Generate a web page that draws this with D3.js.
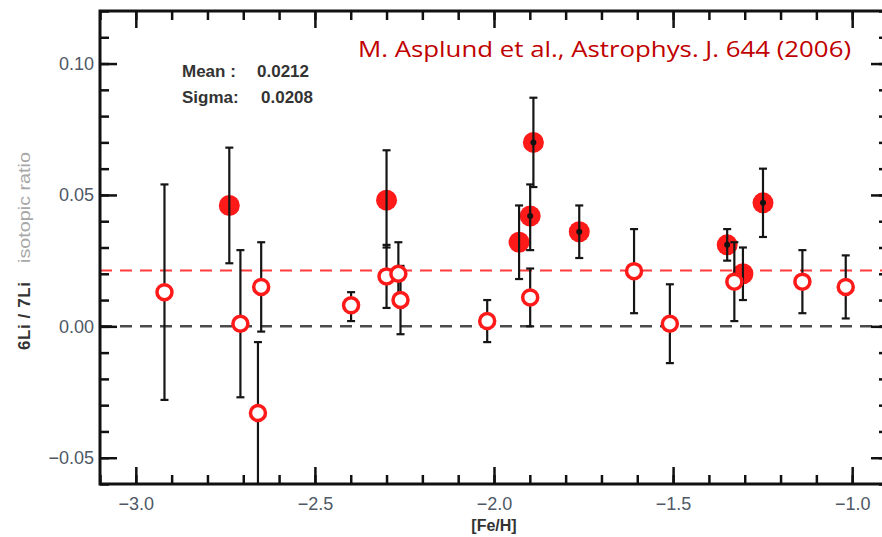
<!DOCTYPE html>
<html>
<head>
<meta charset="utf-8">
<script src="https://cdn.jsdelivr.net/npm/d3@7"></script>
<style>
  body { margin: 0; background: #fff; }
  svg { display: block; }
  .tick text { font-family: "Liberation Sans", Arial, sans-serif; fill: #4f5866; }
</style>
</head>
<body>
<svg id="chart" width="882" height="537"></svg>
<script>
// open symbols (white filled circles)
var openFeH = [-2.92, -2.708, -2.650, -2.659, -2.399, -2.300, -2.267, -2.261, -2.019, -1.899, -1.609, -1.509, -1.329, -1.139, -1.018];
var openVal = [0.013, 0.001, 0.015, -0.033, 0.008, 0.019, 0.020, 0.010, 0.002, 0.011, 0.021, 0.001, 0.017, 0.017, 0.015];
var openLo  = [-0.028, -0.027, -0.002, -0.075, 0.002, 0.007, 0.009, -0.003, -0.006, 0.000, 0.005, -0.014, 0.002, 0.005, 0.003];
var openHi  = [0.054, 0.029, 0.032, -0.006, 0.013, 0.031, 0.032, 0.023, 0.010, 0.022, 0.037, 0.016, 0.032, 0.029, 0.027];

// filled symbols (detections)
var fillFeH = [-2.739, -2.300, -1.930, -1.899, -1.890, -1.762, -1.349, -1.305, -1.249];
var fillVal = [0.046, 0.048, 0.032, 0.042, 0.070, 0.036, 0.031, 0.020, 0.047];
var fillLo  = [0.024, 0.030, 0.018, 0.029, 0.053, 0.026, 0.025, 0.010, 0.034];
var fillHi  = [0.068, 0.067, 0.046, 0.054, 0.087, 0.046, 0.037, 0.030, 0.060];
var fillDot = [false, false, false, true, true, true, true, false, true];

var meanVal = 0.0212, sigmaVal = 0.0208;
var xMajor = [-3.0, -2.5, -2.0, -1.5, -1.0];
var yMajor = [-0.05, 0.00, 0.05, 0.10];

var svg = d3.select('#chart');
var L = 100, R = 888, T = 11, B = 484;

var x = d3.scaleLinear().domain([-3.1, -0.9]).range([L, R]);
var y = d3.scaleLinear().domain([-0.06, 0.12]).range([B, T]);

var xMinor = d3.range(-31, -8).map(function(i) { return i / 10; });
var yMinor = d3.range(-6, 13).map(function(i) { return i / 100; });

svg.append('defs').append('clipPath').attr('id', 'plotclip')
    .append('rect').attr('x', L).attr('y', T).attr('width', R - L).attr('height', B - T);

var plot = svg.append('g').attr('clip-path', 'url(#plotclip)');

// reference lines
plot.append('line')
    .attr('x1', L).attr('x2', R).attr('y1', y(0)).attr('y2', y(0))
    .attr('stroke', '#4a4a4a').attr('stroke-width', 2.5).attr('stroke-dasharray', '12,8');
plot.append('line')
    .attr('x1', L).attr('x2', R).attr('y1', y(meanVal)).attr('y2', y(meanVal))
    .attr('stroke', '#ff3b3b').attr('stroke-width', 2).attr('stroke-dasharray', '12,8');

var filled = fillFeH.map(function(d, i) {
    return { x: d, v: fillVal[i], lo: fillLo[i], hi: fillHi[i], dot: fillDot[i] };
});
var open = openFeH.map(function(d, i) {
    return { x: d, v: openVal[i], lo: openLo[i], hi: openHi[i] };
});

plot.selectAll('.fill').data(filled).enter().append('circle')
    .attr('class', 'fill')
    .attr('cx', function(d) { return x(d.x); })
    .attr('cy', function(d) { return y(d.v); })
    .attr('r', 10.5)
    .attr('fill', '#ff1a1a');

function errorBars(data) {
    var g = plot.append('g').attr('stroke', '#151515').attr('stroke-width', 2.2);
    var e = g.selectAll('g').data(data).enter().append('g');
    e.append('line')
        .attr('x1', function(d) { return x(d.x); })
        .attr('x2', function(d) { return x(d.x); })
        .attr('y1', function(d) { return y(d.lo); })
        .attr('y2', function(d) { return y(d.hi); });
    e.append('line')
        .attr('x1', function(d) { return x(d.x) - 4; })
        .attr('x2', function(d) { return x(d.x) + 4; })
        .attr('y1', function(d) { return y(d.lo); })
        .attr('y2', function(d) { return y(d.lo); });
    e.append('line')
        .attr('x1', function(d) { return x(d.x) - 4; })
        .attr('x2', function(d) { return x(d.x) + 4; })
        .attr('y1', function(d) { return y(d.hi); })
        .attr('y2', function(d) { return y(d.hi); });
}
errorBars(filled);
errorBars(open);

plot.selectAll('.dot').data(filled.filter(function(d) { return d.dot; })).enter().append('circle')
    .attr('class', 'dot')
    .attr('cx', function(d) { return x(d.x); })
    .attr('cy', function(d) { return y(d.v); })
    .attr('r', 3)
    .attr('fill', '#111');

plot.selectAll('.open').data(open).enter().append('circle')
    .attr('class', 'open')
    .attr('cx', function(d) { return x(d.x); })
    .attr('cy', function(d) { return y(d.v); })
    .attr('r', 7.5)
    .attr('fill', '#fff')
    .attr('stroke', '#ff1a1a')
    .attr('stroke-width', 3.5);

// axes, ticks inward on all four sides
function styleAxis(g) {
    g.select('.domain').remove();
    g.selectAll('.tick line').attr('stroke', '#111').attr('stroke-width', 2.5);
    g.selectAll('.tick text').attr('font-size', 18);
}

svg.append('g').attr('transform', 'translate(0,' + B + ')')
    .call(d3.axisBottom(x).tickValues(xMinor).tickSize(-9).tickFormat(''))
    .call(styleAxis);
svg.append('g').attr('transform', 'translate(0,' + B + ')')
    .call(d3.axisBottom(x).tickValues(xMajor).tickSize(-17).tickPadding(13).tickFormat(d3.format('.1f')))
    .call(styleAxis);
svg.append('g').attr('transform', 'translate(0,' + T + ')')
    .call(d3.axisTop(x).tickValues(xMinor).tickSize(-9).tickFormat(''))
    .call(styleAxis);
svg.append('g').attr('transform', 'translate(0,' + T + ')')
    .call(d3.axisTop(x).tickValues(xMajor).tickSize(-17).tickFormat(''))
    .call(styleAxis);

svg.append('g').attr('transform', 'translate(' + L + ',0)')
    .call(d3.axisLeft(y).tickValues(yMinor).tickSize(-9).tickFormat(''))
    .call(styleAxis);
svg.append('g').attr('transform', 'translate(' + L + ',0)')
    .call(d3.axisLeft(y).tickValues(yMajor).tickSize(-17).tickPadding(6).tickFormat(d3.format('.2f')))
    .call(styleAxis);
svg.append('g').attr('transform', 'translate(' + R + ',0)')
    .call(d3.axisRight(y).tickValues(yMinor).tickSize(-9).tickFormat(''))
    .call(styleAxis);
svg.append('g').attr('transform', 'translate(' + R + ',0)')
    .call(d3.axisRight(y).tickValues(yMajor).tickSize(-17).tickFormat(''))
    .call(styleAxis);

svg.append('rect')
    .attr('x', L).attr('y', T).attr('width', R - L).attr('height', B - T)
    .attr('fill', 'none').attr('stroke', '#111').attr('stroke-width', 3);

// labels
svg.append('text')
    .attr('x', x(-2.0)).attr('y', 531)
    .attr('text-anchor', 'middle')
    .attr('font-family', 'Liberation Sans, Arial, sans-serif')
    .attr('font-weight', 'bold').attr('font-size', 16).attr('fill', '#333')
    .text('[Fe/H]');

svg.append('text')
    .attr('transform', 'translate(30,350) rotate(-90)')
    .attr('font-family', 'Liberation Sans, Arial, sans-serif')
    .attr('font-size', 17).attr('font-weight', 'bold').attr('fill', '#333')
    .attr('textLength', 68).attr('lengthAdjust', 'spacing')
    .text('6Li / 7Li');
svg.append('text')
    .attr('transform', 'translate(30,263) rotate(-90)')
    .attr('font-family', 'Liberation Sans, Arial, sans-serif')
    .attr('font-size', 17).attr('fill', '#a8a8a8')
    .attr('textLength', 111).attr('lengthAdjust', 'spacingAndGlyphs')
    .text('isotopic ratio');

var stats = svg.append('g')
    .attr('font-family', 'Liberation Sans, Arial, sans-serif')
    .attr('font-weight', 'bold').attr('font-size', 17).attr('fill', '#333');
stats.append('text').attr('x', 182).attr('y', 77).text('Mean :');
stats.append('text').attr('x', 257).attr('y', 77).text(meanVal.toFixed(4));
stats.append('text').attr('x', 182).attr('y', 103).text('Sigma:');
stats.append('text').attr('x', 261).attr('y', 103).text(sigmaVal.toFixed(4));

svg.append('text')
    .attr('x', 851).attr('y', 57)
    .attr('text-anchor', 'end')
    .attr('font-family', 'Open Sans, Liberation Sans, sans-serif')
    .attr('font-size', 21).attr('fill', '#c00000')
    .attr('textLength', 493).attr('lengthAdjust', 'spacingAndGlyphs')
    .text('M. Asplund et al., Astrophys. J. 644 (2006)');
</script>
</body>
</html>
